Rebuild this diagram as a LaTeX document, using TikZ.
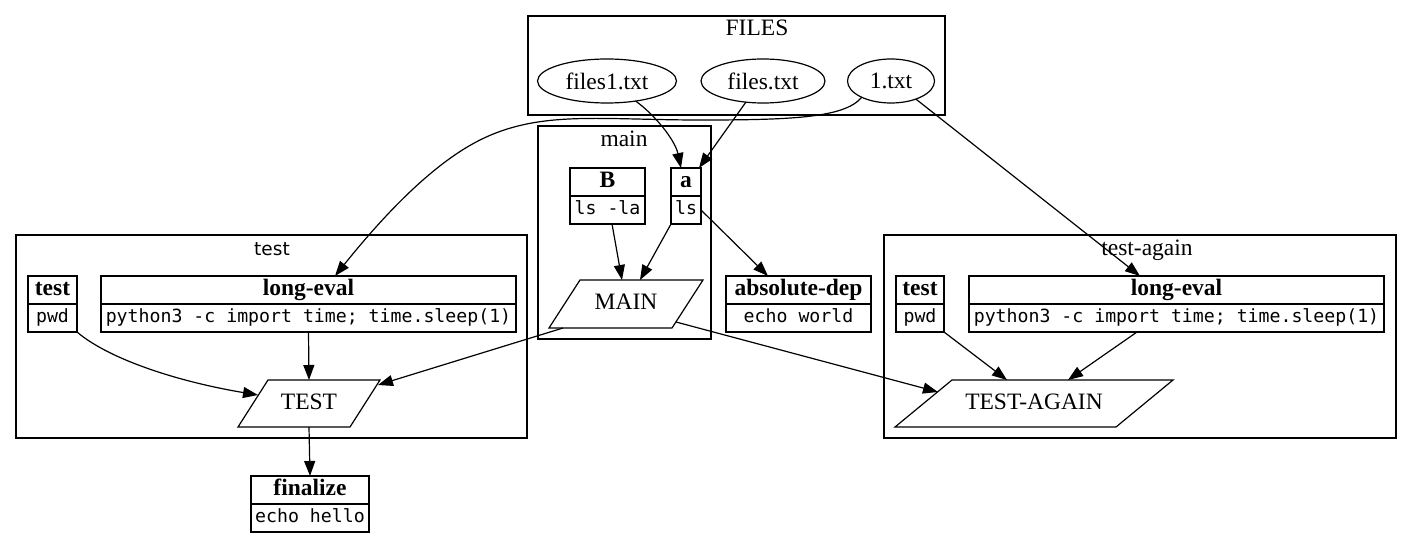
\documentclass[tikz,border=0pt]{standalone}
\usepackage{fontspec}
\setmainfont{Liberation Serif}
\setsansfont{DejaVu Sans}
\setmonofont{DejaVu Sans Mono}
\usetikzlibrary{arrows.meta,shapes.geometric}

% outline of a slanted task box around a text node
\newcommand{\paraoutline}[2]{%
  \draw[thick line] ([xshift=#2/2]#1.north west) -- ([xshift=#2/2]#1.north east)
    -- ([xshift=-#2/2]#1.south east) -- ([xshift=-#2/2]#1.south west) -- cycle;}

\tikzset{
  every node/.style={inner sep=0pt, outer sep=0pt},
  thick line/.style={line width=1.2pt},
  serif/.style={font=\fontsize{23.5}{28}\selectfont},
  cluster/.style={draw, thick line},
  clabel/.style={serif, text height=16, text depth=5},
  slabel/.style={font=\sffamily\fontsize{18.5}{22}\selectfont, text height=14, text depth=4},
  file/.style={draw, thick line, ellipse, serif, minimum height=44},
  hdr/.style={draw, thick line, anchor=north, minimum height=28,
    font=\fontsize{23.5}{28}\bfseries\selectfont, text height=16, text depth=5},
  body/.style={draw, thick line, anchor=north, minimum height=28,
    font=\ttfamily\fontsize{18.2}{22}\selectfont, text height=13.5, text depth=4},
  task/.style={serif, text height=16, text depth=5},
  edge/.style={thick line, -{Triangle[length=15pt,width=11pt]}},
}

\begin{document}
\begin{tikzpicture}[x=1pt,y=-1pt]
\useasboundingbox (0,0) rectangle (1412,537);

% clusters
\draw[cluster] (528,16) rectangle (945,115);
\node[clabel] (lFILES) at (757,30) {FILES};
\draw[cluster] (538,126) rectangle (711,339);
\node[clabel] (lmain) at (624,141) {main};
\draw[cluster] (16,235) rectangle (527,438);
\node[slabel] (ltest) at (272,250) {test};
\draw[cluster] (884,235) rectangle (1396,438);
\node[clabel] (lagain) at (1147,250) {test-again};

% input files
\node[file, minimum width=139] (f1) at (607,81) {files1.txt};
\node[file, minimum width=124] (f2) at (763,81) {files.txt};
\node[file, minimum width=87] (f3) at (891,81) {1.txt};

% main
\node[hdr, minimum width=75] (B) at (607.5,168) {B};
\node[body, minimum width=75] (Bb) at (B.south) {ls -la};
\node[hdr, minimum width=30] (a) at (686,168) {a};
\node[body, minimum width=30] (ab) at (a.south) {ls};
\node[task, minimum width=123, minimum height=48] (MAIN) at (626,304) {MAIN};
\paraoutline{MAIN}{31}

\node[hdr, minimum width=145] (ad) at (798.5,276) {absolute-dep};
\node[body, minimum width=145] (adb) at (ad.south) {echo world};

% test
\node[hdr, minimum width=49] (t1) at (52.5,276) {test};
\node[body, minimum width=49] (t1b) at (t1.south) {pwd};
\node[hdr, minimum width=415] (le1) at (308.5,276) {long-eval};
\node[body, minimum width=415] (le1b) at (le1.south) {python3 -c import time; time.sleep(1)};
\node[task, minimum width=112, minimum height=47] (TEST) at (309,403.5) {TEST};
\paraoutline{TEST}{30}

\node[hdr, minimum width=118] (fin) at (310,476) {finalize};
\node[body, minimum width=118] (finb) at (fin.south) {echo hello};

% test-again
\node[hdr, minimum width=48] (t2) at (920,276) {test};
\node[body, minimum width=48] (t2b) at (t2.south) {pwd};
\node[hdr, minimum width=415] (le2) at (1176.5,276) {long-eval};
\node[body, minimum width=415] (le2b) at (le2.south) {python3 -c import time; time.sleep(1)};
\node[task, minimum width=221, minimum height=47] (TA) at (1034,403.5) {TEST-AGAIN};
\paraoutline{TA}{57}

% dependencies
\draw[edge] (f1.-35) .. controls (655,115) and (675,140) .. ([xshift=-5]a.north);
\draw[edge] (f2.-129) -- ([xshift=-2]a.north east);
\draw[edge] (f3.-151) .. controls (845,118) and (790,120) .. (700,120)
  .. controls (600,120) and (540,110) .. (480,140)
  .. controls (430,165) and (380,220) .. ([xshift=26.5]le1.north);
\draw[edge] (f3.-36) -- ([xshift=-36.5]le2.north);

\draw[edge] ([xshift=4.5]Bb.south) -- ([xshift=-4]MAIN.north);
\draw[edge] (ab.south west) -- ([xshift=14]MAIN.north);
\draw[edge] (ab.east) -- ([xshift=-30.5]ad.north);

\draw[edge] ([xshift=-63]MAIN.south) -- ([shift={(13,5)}]TEST.north east);
\draw[edge] ([shift={(-11.5,-6)}]MAIN.south east) -- ([shift={(14.5,12)}]TA.north west);

\draw[edge] (t1b.south east) .. controls (110,360) and (180,382) .. ([shift={(5,15)}]TEST.north west);
\draw[edge] (le1b.south) -- (TEST.north);
\draw[edge] (TEST.south) -- (fin.north);

\draw[edge] (t2b.south east) -- ([xshift=-27]TA.north);
\draw[edge] ([xshift=-39.5]le2b.south) -- ([xshift=34]TA.north);
\end{tikzpicture}
\end{document}
